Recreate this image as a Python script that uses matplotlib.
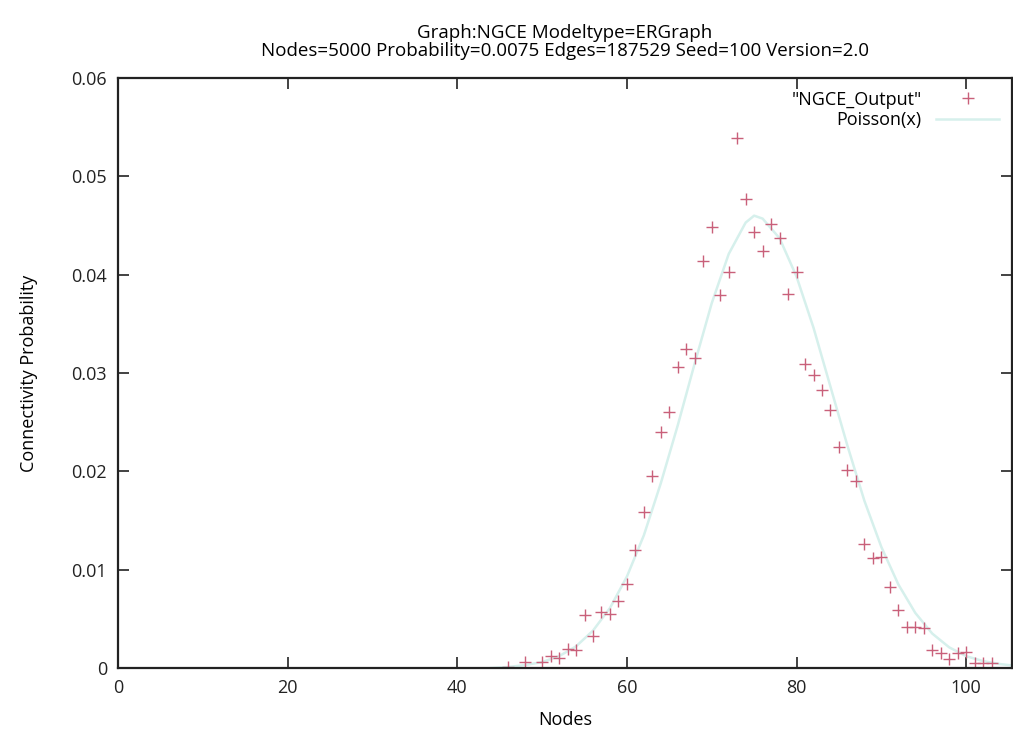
import matplotlib.pyplot as plt

# Degree distribution
nodes = [46, 48, 50, 51, 52, 53, 54, 55, 56, 57, 58, 59, 60, 61, 62, 63, 64, 65,
         66, 67, 68, 69, 70, 71, 72, 73, 74, 75, 76, 77, 78, 79, 80, 81, 82, 83,
         84, 85, 86, 87, 88, 89, 90, 91, 92, 93, 94, 95, 96, 97, 98, 99, 100,
         101, 102, 103]
prob = [0.0001, 0.0006, 0.0006, 0.0012, 0.0010, 0.0019, 0.0018, 0.0054, 0.0033,
        0.0057, 0.0055, 0.0068, 0.0085, 0.0120, 0.0159, 0.0195, 0.0240, 0.0260,
        0.0306, 0.0324, 0.0315, 0.0414, 0.0448, 0.0379, 0.0403, 0.0539, 0.0477,
        0.0443, 0.0424, 0.0452, 0.0437, 0.0380, 0.0403, 0.0309, 0.0298, 0.0283,
        0.0262, 0.0225, 0.0201, 0.0190, 0.0126, 0.0112, 0.0113, 0.0082, 0.0059,
        0.0042, 0.0042, 0.0041, 0.0018, 0.0015, 0.0009, 0.0015, 0.0016, 0.0005,
        0.0005, 0.0005]

# Poisson(x) curve, estimated from the faint line
pois_x = [44, 46, 48, 50, 52, 54, 56, 58, 60, 62, 64, 66, 68, 70, 72, 74, 75,
          76, 78, 80, 82, 84, 86, 88, 90, 92, 94, 96, 98, 100, 102, 104, 106]
pois_y = [0.0000, 0.0001, 0.0003, 0.0006, 0.0012, 0.0022, 0.0038, 0.0061, 0.0093,
          0.0135, 0.0188, 0.0247, 0.0310, 0.0371, 0.0421, 0.0453, 0.0460, 0.0457,
          0.0437, 0.0398, 0.0346, 0.0286, 0.0226, 0.0170, 0.0123, 0.0085, 0.0056,
          0.0035, 0.0021, 0.0012, 0.0007, 0.0004, 0.0002]

plt.rcParams['font.family'] = ['Open Sans', 'DejaVu Sans']

fig = plt.figure(figsize=(10.13, 7.29), dpi=100)
ax = fig.add_axes([118 / 1013, 61 / 729, 894 / 1013, 590 / 729])

ax.plot(pois_x, pois_y, color='#d6f0ec', linewidth=1.8, label='Poisson(x)')
ax.plot(nodes, prob, linestyle='none', marker='+', markersize=9, mew=1.0,
        color='#c9607a', label='"NGCE_Output"')

ax.set_xlim(0, 105.4)
ax.set_ylim(0, 0.06)
ax.set_xticks([0, 20, 40, 60, 80, 100])
ax.set_yticks([0, 0.01, 0.02, 0.03, 0.04, 0.05, 0.06])
ax.set_yticklabels(['0', '0.01', '0.02', '0.03', '0.04', '0.05', '0.06'])
ax.tick_params(direction='in', length=8, width=1.2, top=True, right=True,
               labelsize=13, colors='#222222', pad=8)
for s in ax.spines.values():
    s.set_linewidth(1.6)
    s.set_color('#222222')

ax.set_xlabel('Nodes', fontsize=13, labelpad=10)
ax.set_ylabel('Connectivity Probability', fontsize=13, labelpad=24)
ax.set_title('Graph:NGCE Modeltype=ERGraph\n'
             'Nodes=5000 Probability=0.0075 Edges=187529 Seed=100 Version=2.0',
             fontsize=13.5, linespacing=1.0, pad=16)

handles, labels = ax.get_legend_handles_labels()
leg = ax.legend(handles[::-1], labels[::-1], loc='upper right', frameon=False,
                markerfirst=False, fontsize=13, handlelength=3.5,
                borderaxespad=0.3, labelspacing=0.15)
for t in leg.get_texts():
    t.set_ha('right')

fig.savefig('out.png', dpi=100)
